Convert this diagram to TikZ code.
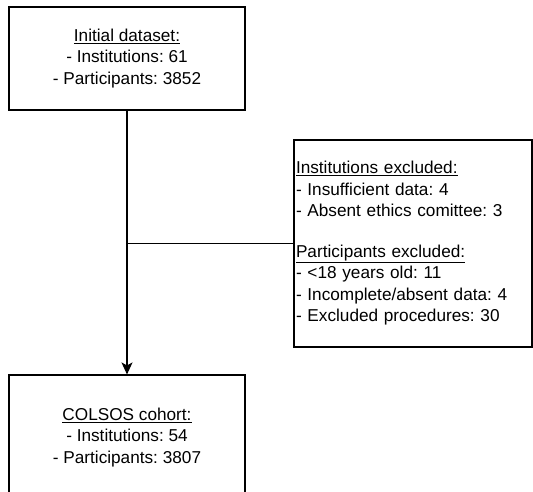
\documentclass[tikz,border=0pt]{standalone}
\usepackage{fontspec}
\setmainfont{Liberation Sans}
\usetikzlibrary{arrows.meta}
\begin{document}
\frenchspacing
\begin{tikzpicture}[x=1pt,y=-1pt,
  box/.style={draw=black,line width=1.1pt,rectangle,inner sep=0pt,font=\fontsize{17.2}{21.5}\selectfont\frenchspacing},
  conn/.style={draw=black,line width=1.1pt}]
\useasboundingbox (0,0) rectangle (533,492);
\clip (0,0) rectangle (533,492);
\fill[white] (0,0) rectangle (533,492);
\node[box,minimum width=236pt,minimum height=103pt,align=center] (init) at (127,58.5)
  {\underline{Initial dataset:}\\- Institutions: 61\\- Participants: 3852};
\node[box,minimum width=238pt,minimum height=207pt,align=left,text width=234pt,inner xsep=2pt] (excl) at (413,243.5)
  {\underline{Institutions excluded:}\\- Insufficient data: 4\\- Absent ethics comittee: 3\\[19pt]\underline{Participants excluded:}\\- <18 years old: 11\\- Incomplete/absent data: 4\\- Excluded procedures: 30};
\node[box,minimum width=236pt,minimum height=125pt,align=center] (cohort) at (127,437.5)
  {\underline{COLSOS cohort:}\\- Institutions: 54\\- Participants: 3807};
\coordinate (split) at (init.south |- excl.west);
\draw[conn,-{Stealth[length=12pt,width=11pt,inset=3pt]}] (init.south) -- (cohort.north);
\draw[conn] (split) -- (excl.west);
\end{tikzpicture}
\end{document}
